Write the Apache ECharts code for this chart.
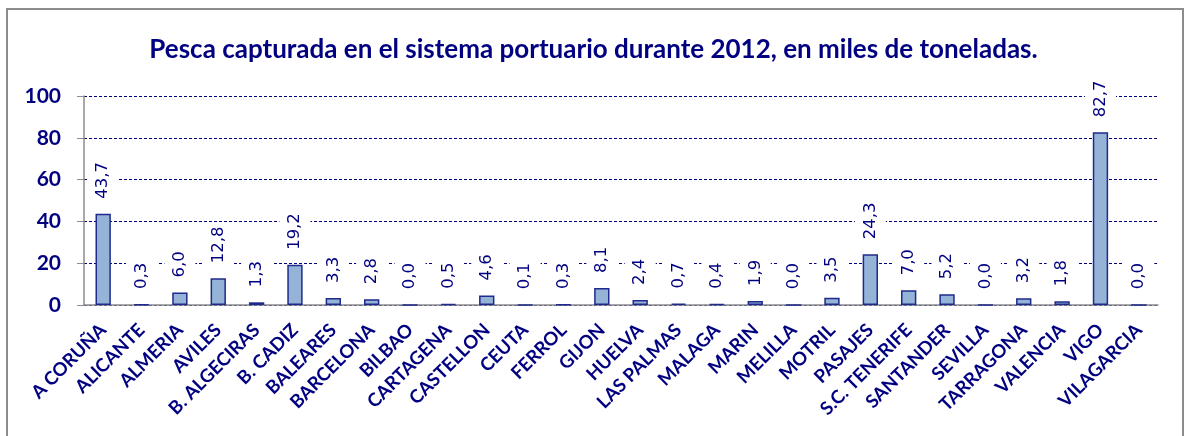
<!DOCTYPE html>
<html>
<head>
<meta charset="utf-8">
<script src="https://cdn.jsdelivr.net/npm/echarts@6/dist/echarts.min.js"></script>
<style>
    html, body { margin: 0; padding: 0; background: #fff; }
    #chart { width: 1187px; height: 436px; }
</style>
</head>
<body>
<div id="chart"></div>
<script>
// puertos
const categories = [
    'A CORUÑA', 'ALICANTE', 'ALMERIA', 'AVILES', 'B. ALGECIRAS', 'B. CADIZ', 'BALEARES',
    'BARCELONA', 'BILBAO', 'CARTAGENA', 'CASTELLON', 'CEUTA', 'FERROL', 'GIJON', 'HUELVA',
    'LAS PALMAS', 'MALAGA', 'MARIN', 'MELILLA', 'MOTRIL', 'PASAJES', 'S.C. TENERIFE',
    'SANTANDER', 'SEVILLA', 'TARRAGONA', 'VALENCIA', 'VIGO', 'VILAGARCIA'
];
// miles de toneladas
const pesca = [
    43.7, 0.3, 6.0, 12.8, 1.3, 19.2, 3.3,
    2.8, 0.0, 0.5, 4.6, 0.1, 0.3, 8.1, 2.4,
    0.7, 0.4, 1.9, 0.0, 3.5, 24.3, 7.0,
    5.2, 0.0, 3.2, 1.8, 82.7, 0.0
];
const yTicks = [0, 20, 40, 60, 80, 100];

const navy = '#000080';
const fontFam = 'Lato, "Open Sans", sans-serif';

const myChart = echarts.init(document.getElementById('chart'));

const option = {
    backgroundColor: '#fff',
    animation: false,
    title: {
        text: 'Pesca capturada en el sistema portuario durante 2012, en miles de toneladas.',
        left: 'center',
        top: 32,
        textStyle: {
            color: navy,
            fontFamily: fontFam,
            fontSize: 26,
            fontWeight: 'bold'
        }
    },
    graphic: [
        {
            type: 'rect',
            shape: { x: 7, y: 9, width: 1176, height: 440 },
            style: { fill: 'none', stroke: '#8c8c8c', lineWidth: 2 },
            silent: true
        }
    ],
    grid: {
        left: 84,
        right: 29,
        top: 96,
        bottom: 131
    },
    xAxis: {
        type: 'category',
        data: categories,
        axisLine: { lineStyle: { color: '#8c8c8c', width: 1.5 } },
        axisTick: { alignWithLabel: false, length: 7, lineStyle: { color: '#8c8c8c' } },
        axisLabel: {
            interval: 0,
            rotate: 45,
            margin: 22,
            color: navy,
            fontFamily: fontFam,
            fontSize: 18.5,
            fontWeight: 'bold'
        }
    },
    yAxis: {
        type: 'value',
        min: yTicks[0],
        max: yTicks[yTicks.length - 1],
        interval: 20,
        axisLine: { show: true, lineStyle: { color: '#8c8c8c', width: 1.5 } },
        axisTick: { show: true, length: 7, lineStyle: { color: '#8c8c8c' } },
        axisLabel: {
            margin: 23,
            color: navy,
            fontFamily: fontFam,
            fontSize: 21,
            fontWeight: 'bold'
        },
        splitLine: {
            lineStyle: { color: navy, type: [3, 2], width: 1 }
        }
    },
    series: [
        {
            name: 'Pesca',
            type: 'bar',
            data: pesca,
            barWidth: '40%',
            itemStyle: {
                color: '#95b3d7',
                borderColor: '#1f2a8c',
                borderWidth: 1.5
            },
            label: {
                show: true,
                position: 'top',
                rotate: 90,
                align: 'left',
                verticalAlign: 'middle',
                distance: 13,
                color: navy,
                fontFamily: '"DejaVu Sans", sans-serif',
                fontSize: 16.5,
                backgroundColor: '#fff',
                padding: [7, 2],
                formatter: function (p) {
                    return p.value.toFixed(1).replace('.', ',');
                }
            }
        }
    ]
};

myChart.setOption(option);

window.addEventListener('resize', function () {
    myChart.resize();
});
</script>
</body>
</html>
